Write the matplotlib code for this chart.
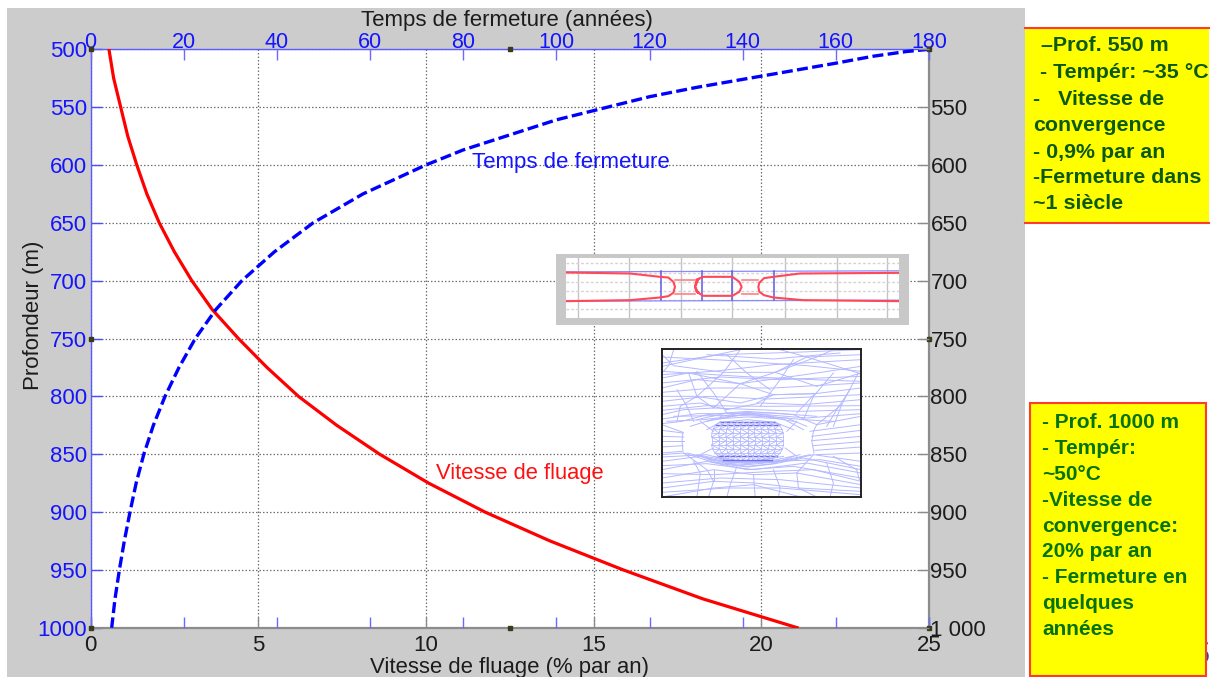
import matplotlib
matplotlib.use("Agg")
import matplotlib.pyplot as plt
from matplotlib.patches import Rectangle

plt.rcParams['font.family'] = ['Liberation Sans', 'DejaVu Sans']

# ---- main chart data
depth_rate = [500, 525, 550, 575, 600, 625, 650, 675, 700, 725, 750, 775, 800, 825, 850, 875, 900, 925, 950, 975, 1000]
creep_rate = [0.55, 0.69, 0.90, 1.11, 1.38, 1.68, 2.05, 2.50, 3.02, 3.63, 4.41, 5.26, 6.20, 7.34, 8.62, 10.08, 11.76, 13.70, 15.88, 18.25, 21.07]
depth_time = [500, 502, 506, 512, 519, 526, 533, 541, 551, 561, 574, 587, 600, 625, 650, 675, 700, 725, 750, 775, 800, 825, 850, 875, 900, 925, 950, 975, 1000]
closure_time = [180, 175, 168, 160, 150, 140, 130, 120, 110, 100, 90, 80, 72, 58.5, 47.8, 39.5, 32.5, 26.9, 22.5, 19, 16, 13.5, 11.45, 9.8, 8.48, 7.26, 6.2, 5.26, 4.55]

rate_ticks = [0, 5, 10, 15, 20, 25]
time_ticks = [0, 20, 40, 60, 80, 100, 120, 140, 160, 180]
depth_ticks = [500, 550, 600, 650, 700, 750, 800, 850, 900, 950, 1000]
left_labels = [str(d) for d in depth_ticks]
right_labels = ['', '550', '600', '650', '700', '750', '800', '850', '900', '950', '1 000']
handles_x = [0, 12.5, 25, 0, 25, 0, 12.5, 25]
handles_y = [500, 500, 500, 750, 750, 1000, 1000, 1000]

box1_lines = ['–Prof. 550 m', '- Tempér: ~35 °C', '-   Vitesse de', 'convergence', '- 0,9% par an', '-Fermeture dans', '~1 siècle']
box2_lines = ['- Prof. 1000 m', '- Tempér:', '~50°C', '-Vitesse de', 'convergence:', '20% par an', '- Fermeture en', 'quelques', 'années']

# ---- small gallery section inset (own units)
sec_grid_x = [115, 268, 423, 577, 735, 890, 1042]
sec_grid_y = [67, 97, 125, 152, 180, 208]
sec_left_x = [78, 270, 360, 385, 400, 405, 400, 385, 360, 270, 78]
sec_left_y = [97, 100, 110, 112, 125, 140, 158, 168, 172, 180, 183]
sec_room_x = [475, 465, 470, 490, 577, 598, 605, 598, 577, 490, 470, 465, 475]
sec_room_y = [118, 140, 155, 167, 167, 155, 140, 125, 110, 110, 118, 140, 158]
sec_right_x = [1077, 780, 700, 672, 658, 655, 658, 672, 700, 790, 1077]
sec_right_y = [98, 100, 110, 114, 128, 140, 155, 165, 172, 180, 183]
sec_web_x = [[405, 465], [405, 465], [605, 655], [605, 655]]
sec_web_y = [[118, 118], [160, 160], [120, 120], [160, 160]]
sec_wall_x = [362, 486, 577, 702]

# ---- mesh inset (own units)
mesh_lines = [
 [(365,345),(400,378),(550,398),(705,398),(830,352),(880,330)],
 [(400,330),(385,378),(365,400)], [(600,330),(550,398),(470,470),(420,500)],
 [(720,330),(800,352),(955,400),(963,405)], [(365,380),(600,330)],
 [(365,415),(445,400),(600,432),(705,398),(800,352),(963,345)],
 [(445,400),(470,470),(520,505)], [(600,432),(700,465),(825,462)],
 [(705,398),(830,440),(963,400)], [(955,400),(905,495),(880,560)],
 [(365,445),(470,420),(600,432),(830,400),(963,380)],
 [(365,470),(470,470),(600,490),(700,465),(825,462),(963,445)],
 [(600,432),(520,505)], [(700,465),(650,490)], [(825,462),(770,520)],
 [(365,500),(480,490),(560,510),(660,490),(790,495),(963,480)],
 [(365,525),(430,510),(520,505),(650,510),(780,515),(963,510)],
 [(365,552),(425,545),(500,525),(622,515),(760,525),(830,555),(963,530)],
 [(420,500),(410,545)], [(905,495),(830,555)],
 [(400,530),(510,528),(622,528),(740,535),(800,560)],
 [(450,560),(520,538),(622,532),(730,538),(790,570)],
 [(500,570),(540,548),(622,540),(705,548),(760,570)],
 [(365,555),(428,578)], [(365,572),(428,580)], [(365,590),(430,592)], [(365,605),(430,605)],
 [(365,622),(428,618)], [(365,640),(425,635)],
 [(815,590),(963,572)], [(815,603),(963,590)], [(818,618),(963,606)], [(825,632),(963,622)],
 [(830,645),(963,640)], [(810,575),(963,555)], [(820,575),(830,555)],
 [(428,578),(425,605),(428,635)], [(820,575),(815,605),(822,640)],
 [(365,645),(430,640),(520,668),(622,675),(730,665),(820,645),(963,665)],
 [(365,665),(480,650),(540,672),(622,682),(705,672),(790,655),(963,690)],
 [(365,690),(500,665),(620,690),(760,680),(963,715)],
 [(365,715),(520,690),(640,705),(770,700),(963,735)],
 [(365,745),(520,725),(645,730),(775,745),(963,755)],
 [(365,772),(520,745),(640,735),(775,770),(963,772)],
 [(520,725),(505,772)], [(640,705),(645,772)], [(770,700),(775,745),(830,772)],
 [(520,690),(520,725)], [(950,690),(958,720)], [(880,650),(950,690)],
 [(430,640),(500,690),(520,725)], [(820,645),(770,700)],
 [(500,655),(560,672),(622,680),(700,672),(760,650)],
 # extra near-horizontal strands
 [(365,405),(520,395),(700,375),(963,360)], [(365,430),(540,412),(720,420),(963,410)],
 [(365,458),(520,445),(700,445),(963,430)], [(365,485),(500,470),(680,478),(963,465)],
 [(365,512),(500,498),(680,500),(963,498)], [(365,538),(470,522),(640,522),(800,535),(963,522)],
 [(380,545),(490,540),(620,524),(790,540),(880,545)], [(470,540),(560,520),(700,520),(830,530)],
 [(500,545),(622,522),(760,545)], [(540,530),(622,518),(700,530)],
 [(365,352),(560,362),(800,378),(963,395)], [(500,345),(700,358),(900,340)],
 [(365,370),(540,345),(760,338),(963,330)], [(365,395),(600,410),(820,420),(963,425)],
 [(365,652),(500,645),(560,662),(700,665),(840,660),(963,680)],
 [(365,678),(500,672),(640,690),(800,670),(963,700)],
 [(365,702),(520,705),(700,695),(820,690),(963,725)],
 [(365,730),(540,715),(720,720),(963,745)], [(365,758),(560,745),(720,745),(963,765)],
 [(440,640),(560,668),(700,668),(810,645)], [(470,645),(575,666),(680,666),(780,645)],
 [(510,660),(622,672),(740,660)], [(520,650),(622,668),(730,650)],
 [(460,665),(480,700),(470,772)], [(590,680),(570,735),(560,772)],
 [(700,690),(720,745),(715,772)], [(860,670),(880,730),(870,772)],
 [(560,345),(620,400),(690,450)], [(760,360),(720,420),(660,500)],
 [(470,395),(520,460),(560,520)], [(880,400),(820,470),(790,540)],
 [(410,450),(440,500),(460,545)], [(930,450),(890,510),(860,560)],
 [(480,545),(520,575)], [(770,545),(740,575)], [(480,645),(520,625)], [(770,650),(735,625)],
]
lens_y = [546, 556, 568, 580, 592, 604, 616, 628, 640, 650, 660]
lens_hw = [82, 96, 103, 107, 108, 108, 108, 105, 98, 88, 74]
lens_fracs = [-1, -0.8, -0.6, -0.4, -0.2, 0, 0.2, 0.4, 0.6, 0.8, 1]

# ---- figure
W, H = 1213, 677
fig = plt.figure(figsize=(W/100, H/100), dpi=100, facecolor='white')

bg = fig.add_axes([0, 0, 1, 1])
bg.set_xlim(0, W); bg.set_ylim(H, 0); bg.axis('off')
bg.add_patch(Rectangle((7, 8), 1018, 669, fc='#cccccc', ec='none'))
bg.text(1186, 655, 'S', color='#1f4e9a', fontsize=26, fontweight='bold', va='center', ha='left')
bg.add_patch(Rectangle((1025, 28), 184, 194.5, fc='#ffff00', ec='none', zorder=3))
bg.plot([1025, 1209], [28, 28], color='#ff3b30', lw=1.5, zorder=3.5)
bg.plot([1025, 1209], [222.5, 222.5], color='#ff3b30', lw=1.5, zorder=3.5)
bg.add_patch(Rectangle((1030, 403), 176, 273, fc='#ffff00', ec='#ff3b30', lw=1.5, zorder=3))
box1_y = [45.7, 72.7, 99.3, 125.7, 152.7, 177.7, 203.3]
box1_x = [1041, 1040, 1033, 1033, 1033, 1033, 1033]
for s, x, y in zip(box1_lines, box1_x, box1_y):
    bg.text(x, y, s, color='#0b5a0b', fontsize=15.4, fontweight='bold', va='center', ha='left', zorder=4)
box2_y = [422.3, 448.3, 474.3, 500.7, 526.7, 551.7, 577.7, 603.3, 629.3]
for s, y in zip(box2_lines, box2_y):
    bg.text(1042.5, y, s, color='#067306', fontsize=15, fontweight='bold', va='center', ha='left', zorder=4)

L, R, T, B = 90.5, 929, 49.3, 627.7
ax = fig.add_axes([L/W, 1-B/H, (R-L)/W, (B-T)/H], facecolor='white')
ax.set_xlim(0, 25); ax.set_ylim(1000, 500)
ax.set_xticks(rate_ticks); ax.set_yticks(depth_ticks); ax.set_yticklabels(left_labels)
ax.grid(True, color='#707070', ls=(0, (1.2, 1.6)), lw=0.9)
ax.set_axisbelow(True)
ax.tick_params(axis='x', direction='in', length=8, width=1, color='#8c8c8c', labelcolor='#1c1c1c',
               labelsize=16, pad=5)
ax.tick_params(axis='y', direction='in', length=8, width=1, color='#4a4aff', labelcolor='#1414ff',
               labelsize=16, pad=2.5)
ax.set_xlabel('Vitesse de fluage (% par an)', fontsize=15.9, color='#1c1c1c', labelpad=1)
ax.set_ylabel('Profondeur (m)', fontsize=16, color='#1c1c1c')
ax.yaxis.set_label_coords(-0.0553, 0.54)
ax.plot(creep_rate, depth_rate, color='#ff0000', lw=2.3, zorder=3)
ax.text(10.3, 867, 'Vitesse de fluage', color='#ff1010', fontsize=15.8, va='center', ha='left')
ax.text(11.36, 598, 'Temps de fermeture', color='#1414ff', fontsize=16, va='center', ha='left')
for s, c, w in [('left', '#5a5aff', 1), ('top', '#5a5aff', 1), ('right', '#8c8c8c', 1.6), ('bottom', '#8c8c8c', 1.6)]:
    ax.spines[s].set_color(c); ax.spines[s].set_linewidth(w)

axt = ax.twiny()
axt.set_xlim(0, 180)
axt.set_xticks(time_ticks)
axt.tick_params(axis='x', direction='in', length=8, width=1, color='#6a6aff', labelcolor='#1414ff',
                labelsize=15.5, pad=-3, top=True, bottom=True)
axt.set_xlabel('Temps de fermeture (années)', fontsize=16, color='#1c1c1c', labelpad=5)
axt.xaxis.label.set_x(0.4961)
axt.plot(closure_time, depth_time, color='#0000ff', lw=2.4, ls=(0, (3.3, 1.3)), zorder=3)
axt.plot([t/25*180 for t in handles_x], handles_y, ls='none', marker='s', ms=3, mfc='#3a3a1c',
         mec='#3a3a1c', clip_on=False, zorder=6)
for s in axt.spines.values():
    s.set_visible(False)

axr = ax.twinx()
axr.set_ylim(1000, 500)
axr.set_yticks(depth_ticks); axr.set_yticklabels(right_labels)
axr.tick_params(axis='y', direction='in', length=8, width=1, color='#8c8c8c', labelcolor='#1c1c1c',
                labelsize=16, pad=1)
for s in axr.spines.values():
    s.set_visible(False)

# section inset
sx0, sx1, sy0, sy1 = 556, 908.5, 254, 325
s_out = fig.add_axes([sx0/W, 1-sy1/H, (sx1-sx0)/W, (sy1-sy0)/H], facecolor='#c8c8c8')
s_out.set_xticks([]); s_out.set_yticks([])
for s in s_out.spines.values():
    s.set_visible(False)
ix0, ix1, iy0, iy1 = 566, 899, 257.5, 318.5
sec = fig.add_axes([ix0/W, 1-iy1/H, (ix1-ix0)/W, (iy1-iy0)/H], facecolor='white')
sec.set_xlim(78, 1077); sec.set_ylim(235, 52)
sec.set_xticks([]); sec.set_yticks([])
for s in sec.spines.values():
    s.set_visible(False)
for gx in sec_grid_x:
    sec.axvline(gx, color='#c4c4c4', lw=1)
for gy in sec_grid_y:
    sec.axhline(gy, color='#d4d4d4', lw=1, ls=(0, (2, 1.5)))
sec.plot([78, 1077], [95, 92], color='#8a8aff', lw=0.9)
sec.plot([78, 1077], [183, 180], color='#8a8aff', lw=0.9)
for wx in sec_wall_x:
    sec.plot([wx, wx], [92, 180], color='#5a5ae8', lw=1.1)
for xs, ys in [(sec_left_x, sec_left_y), (sec_room_x, sec_room_y), (sec_right_x, sec_right_y)]:
    sec.plot(xs, ys, color='#ff4858', lw=1.5)
for xs, ys in zip(sec_web_x, sec_web_y):
    sec.plot(xs, ys, color='#ff8088', lw=1.2)

# mesh inset
mx0, mx1, my0, my1 = 662, 861, 349, 497
mesh = fig.add_axes([mx0/W, 1-my1/H, (mx1-mx0)/W, (my1-my0)/H], facecolor='white')
mesh.set_xlim(365, 963); mesh.set_ylim(772, 328)
mesh.set_xticks([]); mesh.set_yticks([])
for s in mesh.spines.values():
    s.set_color('#222222'); s.set_linewidth(1.4)
mc = '#b4b8ff'
for seg in mesh_lines:
    mesh.plot([p[0] for p in seg], [p[1] for p in seg], color=mc, lw=0.7)
for i, (y, hw) in enumerate(zip(lens_y, lens_hw)):
    xs = [622 + f*hw for f in lens_fracs]
    dark = i < 2 or i > 8
    mesh.plot(xs, [y]*len(xs), color='#6a6af0' if dark else mc, lw=1.0 if dark else 0.6)
    if i + 1 < len(lens_y):
        y2, hw2 = lens_y[i+1], lens_hw[i+1]
        for f in lens_fracs:
            mesh.plot([622 + f*hw, 622 + f*hw2], [y, y2], color=mc, lw=0.6)
            shift = 0.2 if i % 2 == 0 else -0.2
            if abs(f + shift) <= 1:
                mesh.plot([622 + f*hw, 622 + (f+shift)*hw2], [y, y2], color=mc, lw=0.6)

fig.savefig('out.png', dpi=100)
